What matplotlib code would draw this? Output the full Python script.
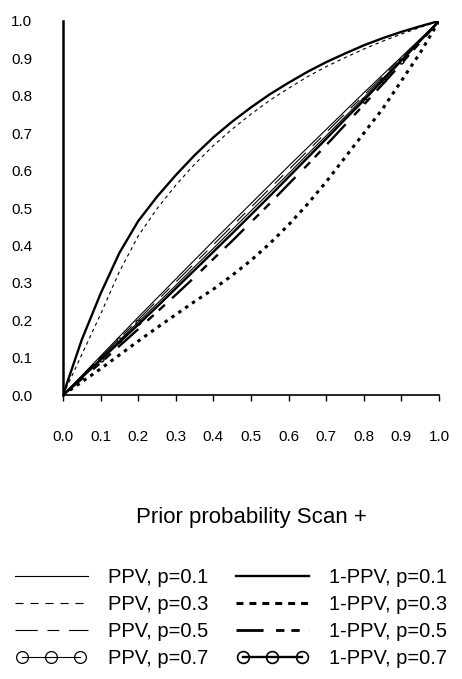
import matplotlib
matplotlib.use("Agg")
import matplotlib.pyplot as plt
from matplotlib.lines import Line2D
from matplotlib.legend_handler import HandlerLine2D

plt.rcParams['font.family'] = ['Liberation Sans', 'DejaVu Sans']
plt.rcParams['lines.scale_dashes'] = False

# prior probability (x axis)
prior = [0, 0.05, 0.1, 0.15, 0.2, 0.25, 0.3, 0.35, 0.4, 0.45, 0.5,
         0.55, 0.6, 0.65, 0.7, 0.75, 0.8, 0.85, 0.9, 0.95, 1.0]

# values
ppv_01 = [0, .052, .104, .156, .208, .259, .31, .361, .412, .462, .512,
          .562, .612, .661, .71, .759, .808, .856, .904, .952, 1.0]
ppv_03 = [0, .108, .216, .33, .425, .498, .561, .617, .667, .711, .751,
          .788, .82, .851, .878, .902, .925, .946, .965, .983, 1.0]
ppv_05 = [0, .05, .101, .151, .201, .252, .302, .352, .402, .452, .502,
          .552, .602, .652, .702, .752, .801, .851, .901, .95, 1.0]
ppv_07 = [0, .048, .097, .146, .195, .244, .293, .343, .392, .442, .492,
          .542, .592, .643, .693, .744, .795, .846, .897, .948, 1.0]
nppv_01 = [0, .148, .271, .38, .465, .53, .588, .641, .689, .731, .769,
           .804, .835, .864, .89, .913, .935, .954, .971, .986, 1.0]
nppv_03 = [0, .035, .07, .107, .144, .18, .215, .25, .283, .32, .36,
           .405, .455, .51, .57, .635, .70, .765, .84, .915, 1.0]
nppv_05 = [0, .043, .086, .131, .176, .222, .268, .315, .364, .412, .462,
           .512, .564, .615, .668, .722, .776, .831, .886, .943, 1.0]
nppv_07 = [0, .047, .094, .141, .188, .236, .285, .334, .383, .432, .482,
           .532, .583, .634, .685, .737, .788, .841, .894, .947, 1.0]

labels = ["PPV, p=0.1", "PPV, p=0.3", "PPV, p=0.5", "PPV, p=0.7",
          "1-PPV, p=0.1", "1-PPV, p=0.3", "1-PPV, p=0.5", "1-PPV, p=0.7"]

fig = plt.figure(figsize=(4.62, 6.79), dpi=100)
ax = fig.add_axes([63 / 462, 1 - 395 / 679, 376 / 462, 374 / 679])

thin, thick = 0.8, 1.7
long_short = (19.5, 9, 6, 5, 6, 7)
ax.plot(prior, ppv_01, color="black", lw=thin)
ax.plot(prior, ppv_03, color="black", lw=thin, dashes=(2.5, 2.5))
ax.plot(prior, ppv_05, color="black", lw=thin, dashes=(16, 7, 8.5, 7))
ax.plot(prior, ppv_07, color="black", lw=thin, marker="o", ms=3.5,
        mfc="none", mec="black", mew=1, markevery=[2, 3, 4])
ax.plot(prior, nppv_01, color="black", lw=thick)
ax.plot(prior, nppv_03, color="black", lw=2.2, dashes=(2.5, 3.5))
ax.plot(prior, nppv_05, color="black", lw=thick, dashes=long_short)
ax.plot(prior, nppv_07, color="black", lw=thick, marker="o", ms=3.5,
        mfc="none", mec="black", mew=1, markevery=[16, 17, 18])

ax.set_xlim(0, 1)
ax.set_ylim(0, 1)
ticks = [i / 10 for i in range(11)]
ax.set_xticks(ticks)
ax.set_yticks(ticks)
ax.set_xticklabels([f"{t:.1f}" for t in ticks])
ax.set_yticklabels([f"{t:.1f}" for t in ticks])
ax.tick_params(axis="x", direction="out", length=4.3, width=1, pad=21,
               labelsize=11)
ax.tick_params(axis="y", length=0, pad=22, labelsize=11)
for s in ["top", "right"]:
    ax.spines[s].set_visible(False)
ax.spines["left"].set_linewidth(1.8)
ax.spines["bottom"].set_linewidth(1.2)

ax.set_xlabel("Prior probability Scan +", fontsize=16)
ax.xaxis.set_label_coords(0.5, -0.30)

# legend proxies, drawn bigger like the original key
handles = [
    Line2D([], [], color="black", lw=thin),
    Line2D([], [], color="black", lw=thin, dashes=(5.8, 5)),
    Line2D([], [], color="black", lw=thin, dashes=(16, 7, 8.5, 7)),
    Line2D([], [], color="black", lw=thin, marker="o", ms=8.5,
           mfc="none", mec="black", mew=0.9),
    Line2D([], [], color="black", lw=thick),
    Line2D([], [], color="black", lw=2.2, dashes=(5, 4.3)),
    Line2D([], [], color="black", lw=2, dashes=long_short),
    Line2D([], [], color="black", lw=thick, marker="o", ms=8.5,
           mfc="none", mec="black", mew=1.2),
]
hmap = {Line2D: HandlerLine2D(marker_pad=0)}
hmap[handles[3]] = HandlerLine2D(marker_pad=0.35)
hmap[handles[7]] = HandlerLine2D(marker_pad=0.35)
fig.legend(handles, labels, ncol=2, loc="upper left",
           bbox_to_anchor=(15 / 462, 1 - 568 / 679), frameon=False,
           fontsize=14.5, handlelength=3.6, handletextpad=1.0,
           columnspacing=1.4, labelspacing=0.4, borderpad=0,
           borderaxespad=0, numpoints=3, handler_map=hmap)

fig.savefig("out.png", dpi=100)
